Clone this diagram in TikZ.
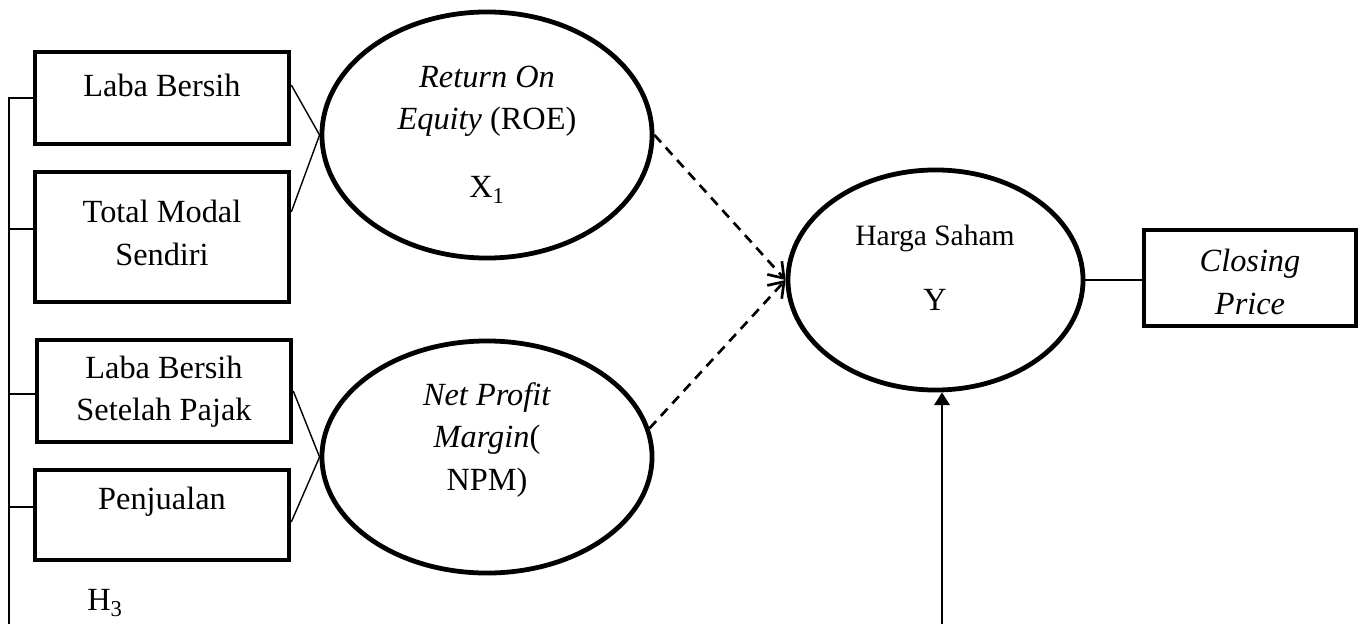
\documentclass[tikz,border=0pt]{standalone}
\usepackage{fontspec}
\setmainfont{Liberation Serif}
\usetikzlibrary{calc,arrows.meta,shapes.geometric}
\tikzset{
  indbox/.style={draw, line width=3.2pt, inner sep=0pt, minimum width=6.35cm},
  latent/.style={draw, ellipse, line width=3.4pt, inner sep=0pt},
  txt/.style={align=center, inner sep=0pt, font=\fontsize{23}{30}\selectfont},
  indline/.style={line width=1pt},
  barline/.style={line width=1.8pt},
  hyparrow/.style={line width=1.9pt, dash pattern=on 7pt off 5pt, -{Straight Barb[length=10pt,width=14pt]}}
}

\begin{document}
\begin{tikzpicture}[x=0.025cm, y=-0.025cm]
		%%%%% START %%%%%
		\useasboundingbox (0,0) rectangle (1362,624);
		
		% indikator X
		\node[indbox, minimum height=2.3cm] (lb) at (162,98) {};
		\node[indbox, minimum height=3.25cm] (tm) at (162,237) {};
		\node[indbox, minimum height=2.55cm] (lbp) at (164,391) {};
		\node[indbox, minimum height=2.25cm] (pj) at (162,515) {};
		
		% indikator Y
		\node[indbox, minimum width=5.3cm, minimum height=2.4cm] (cp) at (1250,278) {};
		
		% variabel
		\node[latent, minimum width=8.25cm, minimum height=6.15cm] (roe) at (487,135) {};
		\node[latent, minimum width=8.25cm, minimum height=5.8cm] (npm) at (487,457) {};
		\node[latent, minimum width=7.375cm, minimum height=5.5cm] (harga) at (935.5,280) {};
		
		% teks
		\node[txt] (lbtxt) at (162,85) {Laba Bersih};
		\node[txt] (tmtxt) at (162,233) {Total Modal\\Sendiri};
		\node[txt] (lbptxt) at (164,392) {Laba Bersih\\Setelah Pajak};
		\node[txt] (pjtxt) at (162,502) {Penjualan};
		\node[txt] (cptxt) at (1250,282) {\textit{Closing}\\\textit{Price}};
		\node[txt] (roetxt) at (487,101) {\textit{Return On}\\\textit{Equity} (ROE)};
		\node[txt] (xtxt) at (487,190) {X\textsubscript{1}};
		\node[txt] (npmtxt) at (487,440) {\textit{Net Profit}\\\textit{Margin}(\\NPM)};
		\node[txt, font=\fontsize{21}{28}\selectfont] (hargatxt) at (935,238) {Harga Saham};
		\node[txt] (ytxt) at (935,300) {Y};
		\node[txt] (htxt) at (105,603) {H\textsubscript{3}};
		
		% garis indikator
		\draw[indline] ($(lb.east)+(0,-13)$) -- (roe.west);
		\draw[indline] ($(tm.east)+(0,-25)$) -- (roe.west);
		\draw[indline] (lbp.east) -- (npm.west);
		\draw[indline] ($(pj.east)+(0,7)$) -- (npm.west);
		\draw[barline] (harga.east) -- (harga.east -| cp.west);
		
		% garis kiri
		\coordinate (barbot) at (9,624);
		\draw[barline] (barbot) -- (barbot |- lb.west) -- (lb.west);
		\draw[barline] ($(tm.west)+(0,-8)$) -- ++(-24,0);
		\draw[barline] ($(lbp.west)+(0,3)$) -- ++(-26,0);
		\draw[barline] ($(pj.west)+(0,-8)$) -- ++(-24,0);
		
		% panah
		\draw[hyparrow] (roe.east) -- (harga.west);
		\draw[hyparrow] (npm.10) -- (harga.west);
		
		\coordinate (ybot) at (942,624);
		\draw[line width=1.5pt, -{Triangle[length=9pt,width=11pt]}] (ybot) -- (ybot |- harga.south);
		
		%%%%% END %%%%%
	\end{tikzpicture}
\end{document}
